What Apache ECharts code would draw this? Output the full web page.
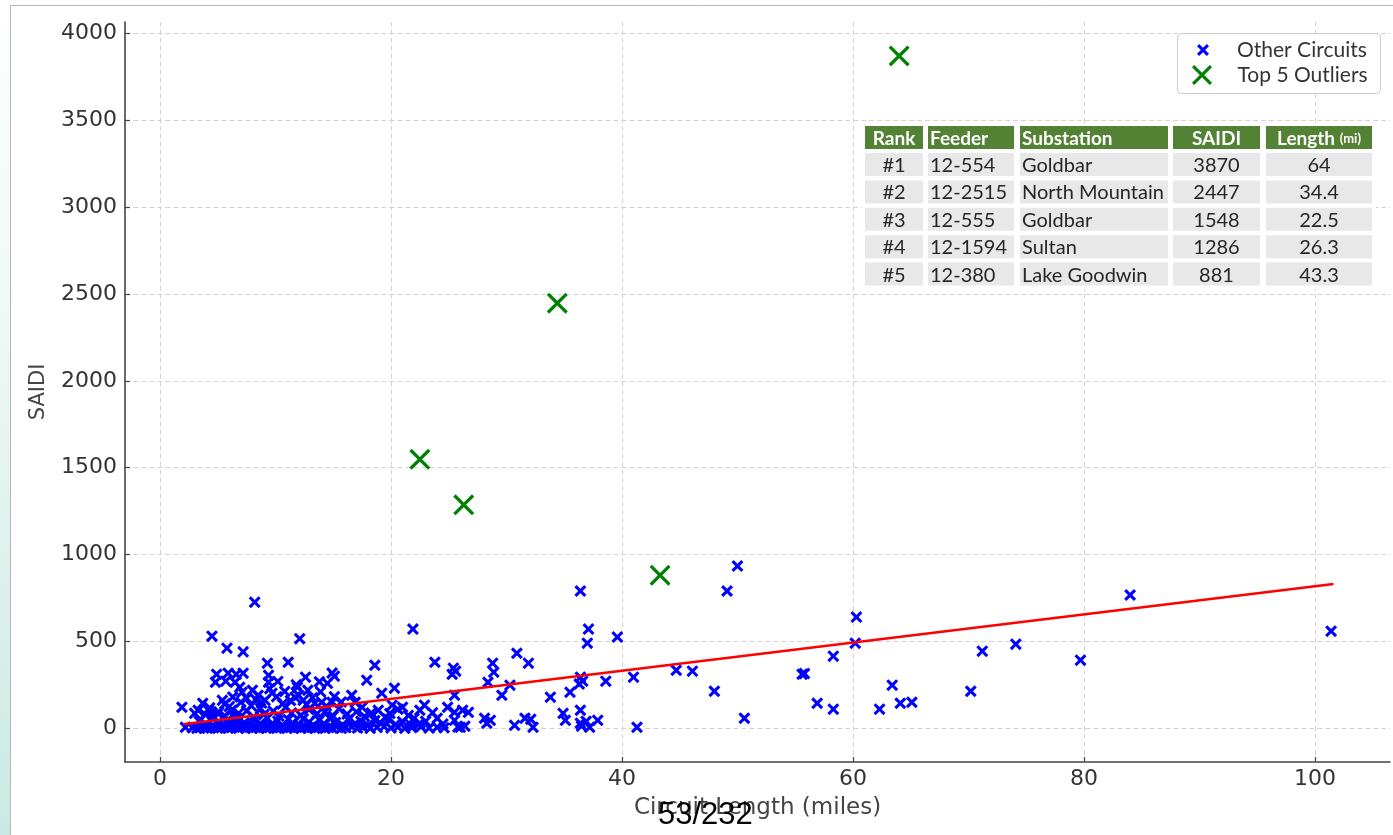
<!DOCTYPE html>
<html><head><meta charset="utf-8">
<script src="https://cdn.jsdelivr.net/npm/echarts@6/dist/echarts.min.js"></script>
<style>html,body{margin:0;padding:0;background:#fff;}#c{width:1393px;height:835px;}</style>
</head><body><div id="c"></div>
<script>
// ---------- DATA ----------
const xTicks = [0, 20, 40, 60, 80, 100];
const yTicks = [0, 500, 1000, 1500, 2000, 2500, 3000, 3500, 4000];

const otherCircuits = [
  // sparse / higher values
  [1.9,121],[2.2,6],[4.5,530],[5.8,461],[7.2,440],[8.2,726],[12.1,516],[11.1,380],[9.3,375],
  [21.9,571],[23.8,380],[18.6,363],[14.9,318],[12.6,294],
  [4.9,311],[5.9,317],[6.6,311],[7.2,317],[4.8,265],[5.7,271],[6.5,265],[9.4,305],[9.4,265],
  [3.7,144],[5.4,161],[6.9,236],[7.1,208],[7.5,173],[8.0,219],[8.5,190],[9.1,161],[9.7,202],
  [3.0,86],[3.3,104],[4.2,104],[4.5,63],[5.0,86],[6.2,104],[6.5,63],
  [14.5,259],[11.9,236],[12.8,219],[11.7,179],[12.4,161],[13.4,144],[14.0,150],[14.9,150],
  [17.9,277],[19.2,202],[20.3,231],[16.9,150],[17.5,121],[20.1,133],[21.0,121],[18.9,104],[19.5,63],
  [25.4,346],[25.6,329],[25.3,311],[28.8,375],[28.9,323],[28.4,265],[30.9,432],[31.9,375],
  [30.3,248],[29.6,190],[25.5,190],[22.9,133],[22.5,104],[24.9,121],[25.5,92],[26.2,104],[26.7,92],
  [28.1,58],[28.6,46],[28.3,29],[30.7,17],[31.6,58],[22.0,58],[22.5,29],[24.0,58],[24.0,6],
  [25.5,46],[26.0,6],[26.4,12],
  [33.8,179],[35.5,208],[36.4,294],[36.6,271],[36.3,255],[38.6,271],[41.0,294],[44.7,334],
  [46.1,329],[48.0,213],[50.6,58],[36.4,790],[37.1,571],[37.0,490],[39.6,525],[49.1,790],
  [50.0,934],[41.3,6],[34.9,86],[35.1,46],[36.4,104],[36.4,29],[36.9,40],[37.9,46],[36.5,12],
  [37.2,6],[32.3,6],[32.1,52],
  [60.3,640],[60.2,490],[58.3,415],[55.6,311],[55.8,315],[56.9,144],[58.3,110],[62.3,110],
  [63.4,248],[64.1,144],[65.1,150],[70.2,213],[71.2,444],[74.1,484],[79.7,392],[84.0,767],[101.4,559],
  // dense cluster, bottom row
  [2.8,3],[3.2,0],[3.5,8],[3.8,2],[4.1,0],[4.4,5],[4.7,10],[5.0,0],[5.3,3],[5.6,8],[5.9,0],
  [6.2,4],[6.5,11],[6.8,0],[7.1,6],[7.4,2],[7.7,9],[8.0,0],[8.3,5],[8.6,1],[8.9,10],[9.2,0],
  [9.5,4],[9.8,8],[10.1,0],[10.4,3],[10.7,9],[11.0,0],[11.3,5],[11.6,2],[11.9,10],[12.2,0],
  [12.5,6],[12.8,1],[13.1,8],[13.4,0],[13.7,4],[14.0,10],[14.3,0],[14.6,5],[14.9,2],[15.3,8],
  [15.7,0],[16.1,4],[16.6,9],[17.1,1],[17.6,6],[18.2,0],[18.8,5],[19.4,10],[20.0,2],[20.6,7],
  [21.2,0],[21.8,4],[22.6,9],[23.3,1],[24.6,3],[25.8,8],
  // dense cluster, low band
  [3.4,40],[4.0,22],[4.6,52],[5.2,30],[5.8,45],[6.3,18],[6.7,55],[7.3,33],[7.8,20],[8.2,48],
  [8.7,28],[9.3,58],[9.7,24],[10.2,42],[10.6,16],[11.1,50],[11.5,30],[12.0,22],[12.4,55],
  [12.9,36],[13.3,18],[13.8,47],[14.2,26],[14.7,58],[15.2,34],[15.8,20],[16.3,50],[16.9,28],
  [17.4,40],[18.0,18],[18.6,45],[19.1,30],[19.8,52],[20.4,22],[21.0,38],[21.7,20],[23.0,40],[24.5,25],
  // dense cluster, middle band
  [3.9,80],[4.3,118],[5.1,95],[5.6,72],[6.0,125],[6.8,86],[7.5,100],[8.1,66],[8.7,115],[9.0,80],
  [9.8,98],[10.3,70],[10.9,122],[11.4,88],[12.2,75],[12.9,108],[13.6,84],[14.3,96],[15.0,70],
  [15.5,112],[16.2,82],[17.0,95],[17.7,68],[18.3,88],[19.9,85],[20.6,110],[21.5,74],[23.6,90],
  // dense cluster, upper band
  [5.6,140],[6.3,180],[7.0,150],[7.9,130],[8.3,165],[8.8,145],[9.5,228],[10.1,182],[10.6,140],
  [10.8,212],[11.3,160],[12.0,190],[12.7,136],[13.2,176],[13.9,210],[14.4,128],[15.1,182],
  [15.7,152],[16.6,190],[10.2,270],[11.8,250],[13.8,268],[15.1,300]
];

const outlierRank = ['#1', '#2', '#3', '#4', '#5'];
const outlierFeeder = ['12-554', '12-2515', '12-555', '12-1594', '12-380'];
const outlierSubstation = ['Goldbar', 'North Mountain', 'Goldbar', 'Sultan', 'Lake Goodwin'];
const outlierSaidi = [3870, 2447, 1548, 1286, 881];
const outlierLength = [64, 34.4, 22.5, 26.3, 43.3];

const trendLength = [2.0, 101.6];
const trendSaidi = [23, 830];

// ---------- CHART ----------
const X_BLUE = 'path://M1.8,0 L5,3.2 L8.2,0 L10,1.8 L6.8,5 L10,8.2 L8.2,10 L5,6.8 L1.8,10 L0,8.2 L3.2,5 L0,1.8 Z';
const X_GREEN = 'path://M1.1,0 L5,3.9 L8.9,0 L10,1.1 L6.1,5 L10,8.9 L8.9,10 L5,6.1 L1.1,10 L0,8.9 L3.9,5 L0,1.1 Z';

const outlierData = outlierLength.map((x, i) => [x, outlierSaidi[i]]);
const trendData = trendLength.map((x, i) => [x, trendSaidi[i]]);

// table graphic
const cols = [
  {x: 865, w: 58, align: 'center'},
  {x: 928, w: 86, align: 'left'},
  {x: 1020, w: 148, align: 'left'},
  {x: 1173, w: 87, align: 'center'},
  {x: 1266, w: 106, align: 'center'}
];
const headY = 126, headH = 23, row0 = 153, pitch = 27.4, rowH = 23;
const tableFont = 'Lato, "Open Sans", sans-serif';
const tableEls = [];
tableEls.push({type: 'rect', shape: {x: 862, y: 123, width: 514, height: 166}, style: {fill: '#ffffff'}, z: 10});
const headers = ['Rank', 'Feeder', 'Substation', 'SAIDI', '{a|Length} {b|(mi)}'];
cols.forEach((c, j) => {
  tableEls.push({type: 'rect', shape: {x: c.x, y: headY, width: c.w, height: headH}, style: {fill: '#548235'}, z: 11});
  tableEls.push({type: 'text', x: c.align === 'center' ? c.x + c.w / 2 : c.x + 2, y: headY + headH / 2 + 1, z: 12,
    style: {text: headers[j], fill: '#ffffff', fontFamily: tableFont, fontSize: 19, fontWeight: 'bold',
      align: c.align, verticalAlign: 'middle',
      rich: {a: {fill: '#ffffff', fontFamily: tableFont, fontSize: 19, fontWeight: 'bold'},
             b: {fill: '#ffffff', fontFamily: tableFont, fontSize: 13, fontWeight: 'bold'}}}});
});
outlierRank.forEach((r, i) => {
  const vals = [r, outlierFeeder[i], outlierSubstation[i], String(outlierSaidi[i]), String(outlierLength[i])];
  const y = row0 + i * pitch;
  cols.forEach((c, j) => {
    tableEls.push({type: 'rect', shape: {x: c.x, y: y, width: c.w, height: rowH}, style: {fill: '#e8e8e8'}, z: 11});
    tableEls.push({type: 'text', x: c.align === 'center' ? c.x + c.w / 2 : c.x + 2, y: y + rowH / 2 + 1, z: 12,
      style: {text: vals[j], fill: '#262626', fontFamily: tableFont, fontSize: 20,
        align: c.align, verticalAlign: 'middle'}});
  });
});

const chart = echarts.init(document.getElementById('c'), null, {renderer: 'canvas'});
const axisColor = '#444444';
const tickFont = {fontFamily: '"DejaVu Sans", sans-serif', fontSize: 22, color: '#333333'};
const plain = v => String(v);

chart.setOption({
  animation: false,
  backgroundColor: '#ffffff',
  grid: {left: 125, right: 3, top: 22, bottom: 73, containLabel: false},
  xAxis: {
    type: 'value', min: -3.03, max: 106.5,
    name: 'Circuit Length (miles)', nameLocation: 'middle', nameGap: 35,
    nameTextStyle: {fontFamily: '"DejaVu Sans", sans-serif', fontSize: 23, color: '#444444'},
    axisLine: {show: true, onZero: false, lineStyle: {color: axisColor, width: 1.6}},
    axisTick: {show: true, inside: true, length: 5, customValues: xTicks, lineStyle: {color: axisColor, width: 1.2}},
    axisLabel: Object.assign({customValues: xTicks, margin: 6, formatter: plain}, tickFont),
    splitLine: {show: true, lineStyle: {color: '#d4d4d4', width: 1, type: [5, 3]}}
  },
  yAxis: {
    type: 'value', min: -194, max: 4065,
    name: 'SAIDI', nameLocation: 'middle', nameGap: 76, nameRotate: 90,
    nameTextStyle: {fontFamily: '"DejaVu Sans", sans-serif', fontSize: 21, color: '#444444'},
    axisLine: {show: true, onZero: false, lineStyle: {color: axisColor, width: 1.6}},
    axisTick: {show: true, inside: true, length: 5, customValues: yTicks, lineStyle: {color: axisColor, width: 1.2}},
    axisLabel: Object.assign({customValues: yTicks, margin: 8, formatter: plain}, tickFont),
    splitLine: {show: true, lineStyle: {color: '#d4d4d4', width: 1, type: [5, 3]}}
  },
  legend: [
    {data: [{name: 'Other Circuits', icon: X_BLUE}], left: 1197, top: 38, padding: 0,
     itemWidth: 12, itemHeight: 12, selectedMode: false, z: 6,
     itemStyle: {opacity: 1},
     textStyle: {fontFamily: tableFont, fontSize: 21, lineHeight: 24, color: '#333333', padding: [0, 0, 0, 23]}},
    {data: [{name: 'Top 5 Outliers', icon: X_GREEN}], left: 1192, top: 63, padding: 0,
     itemWidth: 21, itemHeight: 20, selectedMode: false, z: 6,
     itemStyle: {opacity: 1},
     textStyle: {fontFamily: tableFont, fontSize: 21, lineHeight: 24, color: '#333333', padding: [0, 0, 0, 20]}}
  ],
  series: [
    {type: 'scatter', name: 'Other Circuits', data: otherCircuits, symbol: X_BLUE, symbolSize: 12,
     itemStyle: {color: '#0000ff', opacity: 1}, z: 2, emphasis: {disabled: true}},
    {type: 'line', name: 'trend', data: trendData, showSymbol: false, symbol: 'none',
     lineStyle: {color: '#ff0000', width: 2.6}, z: 3, silent: true},
    {type: 'scatter', name: 'Top 5 Outliers', data: outlierData, symbol: X_GREEN, symbolSize: 21,
     itemStyle: {color: '#008000', opacity: 1}, z: 4, emphasis: {disabled: true}}
  ],
  graphic: [
    {type: 'rect', shape: {x: 0, y: 0, width: 10, height: 835}, silent: true, z: 0,
     style: {fill: new echarts.graphic.LinearGradient(0, 0, 0, 1, [
       {offset: 0, color: '#ffffff'}, {offset: 0.4, color: '#eef8f5'}, {offset: 1, color: '#cbe9e2'}])}},
    {type: 'line', shape: {x1: 10.5, y1: 5.5, x2: 10.5, y2: 835}, style: {stroke: '#b5b5b5', lineWidth: 1}, silent: true},
    {type: 'line', shape: {x1: 10.5, y1: 5.5, x2: 1393, y2: 5.5}, style: {stroke: '#b5b5b5', lineWidth: 1}, silent: true},
    {type: 'rect', shape: {x: 1177.5, y: 33.5, width: 203, height: 60, r: 4}, silent: true, z: 5,
     style: {fill: 'rgba(255,255,255,0.85)', stroke: '#cccccc', lineWidth: 1}},
    {type: 'group', children: tableEls, silent: true},
    {type: 'text', left: 658, top: 800, z: 20, silent: true,
     style: {text: '53/232', fill: '#000000', fontFamily: '"Liberation Sans", Arial, sans-serif', fontSize: 31}}
  ]
});
</script></body></html>
